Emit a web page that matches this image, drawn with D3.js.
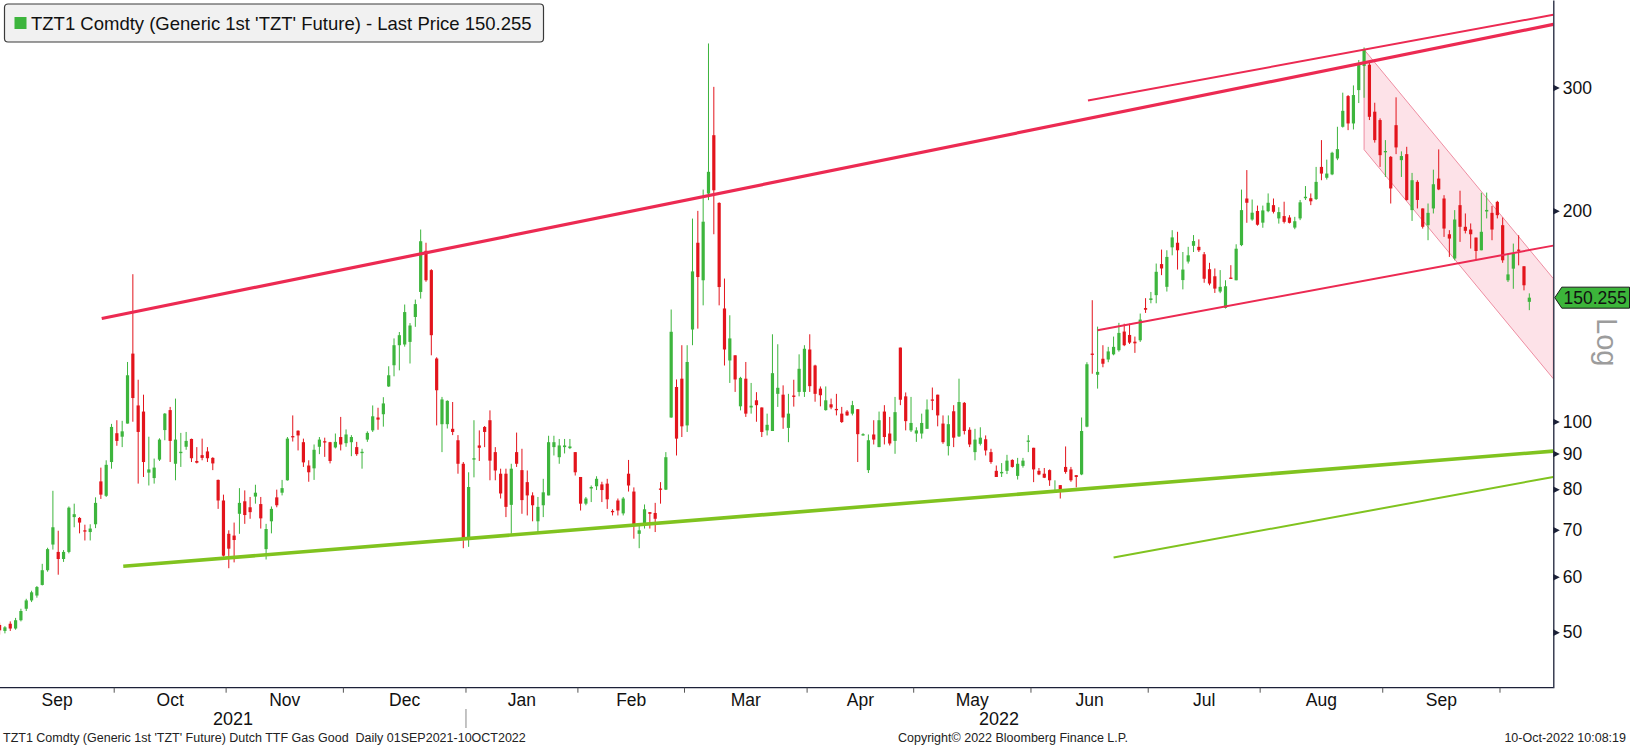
<!DOCTYPE html>
<html>
<head>
<meta charset="utf-8">
<title>TZT1 Comdty</title>
<script src="https://cdn.jsdelivr.net/npm/d3@7/dist/d3.min.js"></script>
<style>
html,body{margin:0;padding:0;background:#ffffff;overflow:hidden;}
svg{display:block;font-family:"Liberation Sans",Arial,sans-serif;}
</style>
</head>
<body>
<svg id="chart" width="1630" height="747"></svg>
<script>
// ---------- DATA (daily sessions) ----------
const opens = [51.2,50.2,51.4,50.6,52.0,54.0,55.5,56.4,58.4,61.3,66.7,65.1,63.6,65.1,73.0,72.8,69.9,69.5,71.3,82.1,78.3,87.5,
96.2,95.1,99.3,125.0,105.4,103.3,84.5,83.0,88.2,97.2,103.8,87.0,90.1,92.0,94.4,87.8,89.5,90.6,88.7,82.5,77.1,
69.1,68.7,73.8,76.9,75.4,78.1,76.2,65.7,72.0,77.9,79.1,82.4,95.3,97.0,93.4,86.5,85.7,92.0,93.7,93.4,91.8,95.0,
93.1,93.4,91.9,90.1,94.2,97.1,101.3,102.4,112.2,120.3,128.5,128.8,129.9,141.0,153.1,175.3,164.5,123.0,99.1,99.1,97.6,94.0,87.0,
68.0,88.2,92.4,98.2,100.4,90.4,84.2,84.2,76.0,90.4,85.2,81.9,78.4,72.0,75.9,78.4,91.9,88.9,91.9,91.6,90.4,
83.3,76.3,80.2,80.8,81.3,81.5,74.5,77.1,73.9,84.2,79.4,69.1,71.1,74.2,74.0,80.2,79.9,101.3,112.0,115.1,
98.7,135.3,180.0,159.1,211.6,256.4,205.2,145.0,122.2,124.3,105.1,115.1,104.7,107.2,104.7,97.1,96.9,109.5,109.2,97.9,108.9,110.2,110.2,
126.7,120.2,111.4,103.8,105.8,104.2,102.6,103.3,102.6,104.1,95.6,85.2,95.8,91.9,103.3,96.1,93.8,127.5,108.6,97.1,
96.1,96.1,97.6,107.5,109.2,99.3,92.2,103.4,95.2,106.3,97.3,90.4,92.9,94.3,90.4,85.0,84.3,85.0,88.1,83.6,86.4,93.5,
91.7,85.0,84.2,85.2,79.4,81.1,86.1,85.4,83.8,84.0,98.3,125.0,116.6,122.9,122.6,124.7,126.4,134.4,132.9,130.0,130.6,145.2,
149.1,151.5,167.8,155.7,177.3,180.0,159.2,169.2,178.2,177.6,173.3,165.0,161.2,153.3,145.3,160.5,159.1,178.6,208.2,194.3,199.8,
192.3,199.7,203.7,195.0,196.5,195.6,189.2,195.0,208.4,208.4,207.8,231.0,222.9,225.4,237.5,263.6,291.6,266.5,297.4,321.9,323.3,277.0,269.5,
242.6,238.8,265.0,236.2,240.9,200.4,219.9,201.5,190.7,201.5,222.3,208.2,185.1,170.9,203.7,189.7,188.0,183.1,175.6,199.5,198.6,205.9,
190.7,159.1,165.3,176.0,166.6,148.2];

const highs = [51.6,51.0,51.8,52.4,54.0,55.8,57.3,58.2,62.6,66.0,79.6,69.8,65.5,75.6,76.3,73.0,71.2,71.3,77.9,85.9,88.0,99.2,
100.4,100.2,121.6,162.3,114.7,109.2,95.1,88.5,94.6,102.8,104.9,107.8,96.3,96.6,94.5,91.9,94.5,91.9,88.9,82.6,78.6,
69.9,71.7,80.3,79.7,78.0,81.2,78.0,71.4,75.6,79.9,82.5,95.0,102.0,97.1,94.5,88.0,92.7,95.0,94.8,93.5,96.1,101.5,
97.4,95.6,93.5,91.4,96.8,105.4,104.6,108.3,119.9,131.4,134.2,146.9,138.2,149.3,188.0,180.0,165.0,123.5,108.4,107.2,106.6,95.6,87.5,
84.6,100.4,97.1,98.5,103.7,91.9,85.6,85.6,87.0,96.4,91.4,85.1,79.2,78.0,82.8,95.4,95.4,94.4,94.4,94.4,90.4,
83.3,78.0,81.0,83.5,82.0,82.8,74.9,77.6,78.0,88.1,80.5,71.1,76.1,74.2,76.5,81.9,90.4,144.5,114.8,128.5,
128.5,194.9,199.9,214.4,346.7,300.6,205.6,160.0,141.8,124.3,115.8,121.6,113.5,110.1,104.7,102.6,133.2,128.9,112.6,109.5,114.7,124.7,128.5,
133.2,120.5,112.2,112.2,107.8,109.5,104.9,103.8,107.0,104.1,96.2,95.8,100.4,103.3,105.5,101.5,108.4,127.5,110.0,108.4,
98.1,102.6,107.5,111.8,109.2,102.0,102.0,105.5,115.1,106.6,98.1,97.6,98.1,95.5,91.4,86.5,87.2,89.6,88.3,88.7,88.7,95.6,
91.7,85.8,85.8,85.4,82.4,81.1,92.1,86.1,83.8,101.3,121.5,149.0,136.6,128.5,127.8,132.2,138.3,137.9,137.9,132.2,142.6,150.0,
153.1,168.1,176.0,175.6,187.6,186.6,174.6,177.6,184.6,182.0,174.6,168.5,165.4,164.5,159.1,167.2,179.1,214.4,228.6,207.5,203.4,
203.4,211.7,208.2,202.3,206.0,197.1,196.0,207.2,216.9,211.7,231.0,252.3,236.6,242.8,263.6,294.9,292.6,302.0,328.3,342.2,325.8,285.3,271.0,
252.3,239.4,290.4,243.1,246.8,226.5,221.1,201.5,204.8,228.9,244.7,210.5,187.6,200.4,213.6,198.2,191.8,183.1,212.2,212.3,203.2,206.6,
195.6,173.7,179.5,184.5,166.6,152.4];

const lows = [49.6,49.8,50.2,50.4,51.8,53.6,55.2,56.0,58.3,61.0,65.6,60.4,63.0,64.8,70.6,69.2,67.6,67.6,70.4,77.5,78.0,85.6,
92.3,91.9,99.3,99.9,81.5,83.3,81.0,81.5,87.8,94.0,87.5,82.4,86.1,91.1,87.5,87.1,88.0,87.5,85.2,75.0,64.1,
61.7,62.9,69.1,71.4,72.6,76.3,70.3,63.5,69.2,75.4,78.4,82.3,93.6,90.9,86.1,82.0,82.5,89.8,89.0,87.1,91.5,90.9,
92.0,89.2,89.3,85.6,93.5,96.6,97.3,98.3,112.0,116.0,118.3,127.9,121.0,136.5,149.8,158.3,124.3,98.7,90.4,97.7,95.6,84.2,65.9,
66.2,83.2,87.8,91.9,82.4,82.4,77.6,73.0,69.1,86.1,73.8,73.4,72.0,69.5,73.0,78.4,89.4,87.0,90.0,91.3,83.7,
74.6,75.9,76.7,79.8,76.7,75.0,73.4,73.4,73.4,79.4,68.0,65.9,70.3,70.3,69.5,76.3,79.8,101.2,89.4,95.0,
96.6,128.5,135.7,146.5,207.1,185.1,146.5,120.2,113.5,110.2,103.7,101.5,102.6,99.9,95.0,95.5,96.9,104.9,97.6,93.4,105.0,108.6,108.4,
110.2,106.7,105.1,103.6,104.1,102.0,99.5,101.9,102.0,87.5,95.4,84.4,92.7,91.9,92.7,92.4,89.9,105.5,97.1,96.6,
93.5,94.5,97.6,103.8,98.4,92.9,89.4,91.9,95.0,95.8,91.9,88.0,92.4,89.4,87.0,83.3,83.3,84.1,85.9,82.6,85.9,90.4,
81.9,83.8,83.0,80.9,79.3,77.6,84.2,82.0,80.5,83.8,98.1,117.0,111.4,119.5,121.5,124.3,125.8,128.1,129.0,125.3,129.9,142.9,
147.5,147.5,161.8,153.3,172.7,164.8,154.4,168.1,174.6,174.6,157.8,156.5,152.6,152.5,145.0,160.0,159.1,178.0,192.2,193.5,190.4,
189.1,199.0,198.2,191.7,191.8,191.8,188.2,193.9,207.2,203.7,207.2,221.1,221.6,224.8,236.2,262.9,260.7,261.3,285.0,290.0,269.5,250.2,231.0,
223.5,204.8,240.9,223.5,206.7,193.4,201.5,188.6,181.5,198.2,214.0,183.5,171.8,169.9,180.5,185.6,176.6,169.9,175.6,195.0,181.5,195.0,
168.5,158.2,154.7,167.1,153.9,144.2];

const closes = [50.3,50.8,50.6,52.0,53.6,55.5,57.0,58.0,61.3,65.7,70.6,63.6,65.1,75.3,73.7,71.7,69.6,70.3,76.5,78.6,86.7,98.2,
93.8,96.8,116.4,108.0,96.6,87.5,85.4,85.9,94.2,102.6,93.8,94.2,90.5,93.8,88.6,87.3,88.7,88.6,87.1,77.1,64.3,
65.8,67.7,76.5,73.5,74.2,79.1,72.7,70.2,75.0,75.9,80.3,94.5,94.9,95.5,87.4,84.6,91.1,94.2,93.3,87.8,93.5,92.7,
95.8,95.0,89.8,90.5,96.3,101.7,100.6,106.1,116.4,128.5,132.8,143.3,137.1,147.1,180.9,159.1,132.8,110.8,107.5,107.0,96.6,87.0,68.0,
80.6,88.6,91.7,96.6,87.9,85.1,78.9,75.5,85.6,87.0,77.2,78.4,75.9,75.5,79.2,93.4,93.4,92.4,92.4,92.1,84.6,
76.3,77.6,80.6,82.8,79.8,77.4,74.3,74.6,77.6,81.0,71.1,69.9,74.9,73.8,72.6,79.9,88.9,134.3,94.5,98.4,
121.6,163.8,160.8,192.9,227.3,213.9,155.6,126.7,131.4,114.8,115.4,102.6,105.3,105.5,96.6,98.9,117.2,111.7,101.3,102.6,108.4,118.9,127.0,
112.3,109.5,109.0,107.2,104.7,103.9,99.8,102.0,105.5,95.9,95.9,94.0,94.2,100.4,95.0,93.0,103.1,107.4,100.1,99.5,
97.1,99.5,104.0,107.1,102.0,93.4,99.1,94.8,106.6,96.9,92.7,94.2,94.8,90.9,87.5,83.3,84.7,87.9,86.1,87.0,87.9,93.9,
85.4,84.0,83.1,82.4,79.8,79.7,84.7,82.4,83.3,96.9,120.7,124.7,117.7,120.9,125.9,127.8,133.8,128.5,129.6,129.3,139.8,144.4,
149.9,163.6,165.4,171.8,183.2,175.6,164.8,172.7,181.0,175.6,159.9,157.4,154.8,155.7,156.0,160.0,176.5,200.4,205.3,198.7,191.0,
200.2,205.3,199.3,199.1,192.8,192.2,193.2,205.6,209.4,206.3,219.9,226.0,226.0,242.0,244.9,277.8,266.5,292.6,322.9,339.3,272.4,252.3,240.1,
243.4,215.2,246.3,239.4,207.2,221.1,207.2,189.7,198.6,218.2,214.5,188.6,182.5,194.3,189.7,187.2,185.1,175.2,186.6,200.5,188.0,197.1,
169.9,162.2,173.7,175.3,156.5,150.255];

const monthLabels   = ["Sep","Oct","Nov","Dec","Jan","Feb","Mar","Apr","May","Jun","Jul","Aug","Sep","Oct"];
const monthSessions = [22,21,22,23,21,20,23,20,22,22,21,23,22,6];
const yearLabels      = ["2021","2022"];
const yearMonthCounts = [4,10];
const yTickValues = [50,60,70,80,90,100,200,300];
const lastPrice = 150.255;

const legendText  = "TZT1 Comdty (Generic 1st 'TZT' Future) - Last Price 150.255";
const footerLeft  = "TZT1 Comdty (Generic 1st 'TZT' Future) Dutch TTF Gas Good  Daily 01SEP2021-10OCT2022";
const footerMid   = "Copyright\u00A9 2022 Bloomberg Finance L.P.";
const footerRight = "10-Oct-2022 10:08:19";

// drawn trend lines, as [session index, price] end points
const resistanceMain  = [[19.16,140.3],[291.5,369.2]];
const resistanceUpper = [[204.2,287.3],[291.5,381.0]];
const supportJune     = [[206.0,135.0],[291.5,178.3]];
const supportMain     = [[23.2,62.1],[291.5,90.7]];
const supportLower    = [[209.0,63.9],[291.5,83.3]];
const downChannel     = [[256,339.8],[291.5,160.0],[291.5,115.1],[256,244.5]];

// ---------- CHART ----------
const svg = d3.select("#chart");
const P = {left:0, right:1553.3, top:0, bottom:687.7};
const x = d3.scaleLinear().domain([-0.5, 291.5]).range([-3.07, P.right]);
const y = d3.scaleLog().domain([41.65, 400]).range([P.bottom, P.top]);

const UP = "#3db53d", DN = "#e3141c", RED = "#ec2a52", LIME = "#80c31f", AX = "#1c2138";

svg.append("rect").attr("width",1630).attr("height",747).attr("fill","#ffffff");

svg.append("defs").append("clipPath").attr("id","plotClip")
  .append("rect").attr("x",P.left).attr("y",P.top)
  .attr("width",P.right-P.left).attr("height",P.bottom-P.top);
const plotG = svg.append("g").attr("clip-path","url(#plotClip)");

const lineGen = d3.line().x(d=>x(d[0])).y(d=>y(d[1]));

// falling channel
plotG.append("path").attr("d", lineGen(downChannel)+"Z")
  .attr("fill","#fde2e8").attr("stroke","#ee8ea2").attr("stroke-width",1);

// candles
const data = closes.map((c,i)=>({i, o:opens[i], h:highs[i], l:lows[i], c}));
const cg = plotG.append("g");
cg.selectAll("line").data(data).join("line")
  .attr("x1",d=>x(d.i)).attr("x2",d=>x(d.i))
  .attr("y1",d=>y(d.h)).attr("y2",d=>y(d.l))
  .attr("stroke",d=>d.c>=d.o?UP:DN).attr("stroke-width",1);
cg.selectAll("rect").data(data).join("rect")
  .attr("x",d=>x(d.i)-1.6).attr("width",3.2)
  .attr("y",d=>y(Math.max(d.o,d.c)))
  .attr("height",d=>Math.max(1.3, y(Math.min(d.o,d.c))-y(Math.max(d.o,d.c))))
  .attr("fill",d=>d.c>=d.o?UP:DN);

// trend lines
[[resistanceMain,RED,3.2],[resistanceUpper,RED,2],[supportJune,RED,2],
 [supportMain,LIME,3.6],[supportLower,LIME,2]].forEach(([pts,col,w])=>{
  plotG.append("path").attr("d",lineGen(pts)).attr("fill","none")
    .attr("stroke",col).attr("stroke-width",w);
});

// y axis (right)
const yAxis = d3.axisRight(y).tickValues(yTickValues).tickFormat(d3.format("d"))
  .tickSize(0).tickSizeOuter(0).tickPadding(9.5);
const yG = svg.append("g").attr("transform",`translate(${P.right},0)`).call(yAxis)
  .attr("font-family",null).attr("font-size",17.5);
yG.select(".domain").attr("stroke",AX).attr("stroke-width",1.3);
yG.selectAll(".tick text").attr("fill","#111");
yG.selectAll(".tick").append("path").attr("d","M0,-3.3L6.5,0L0,3.3Z").attr("fill",AX);

// x axis
svg.append("line").attr("x1",P.left).attr("x2",P.right)
  .attr("y1",P.bottom).attr("y2",P.bottom).attr("stroke",AX).attr("stroke-width",1.3);
const starts = []; let acc = 0;
monthSessions.forEach(k=>{ starts.push(acc); acc += k; });
const bounds = starts.map(s=>x(s-0.5)); bounds.push(x(acc-0.5));
bounds.slice(1, monthSessions.length).forEach(b=>{
  svg.append("line").attr("x1",b).attr("x2",b).attr("y1",P.bottom).attr("y2",P.bottom+5)
    .attr("stroke","#555").attr("stroke-width",1);
});
monthLabels.forEach((m,k)=>{
  const a = Math.max(P.left,bounds[k]), b = Math.min(P.right,bounds[k+1]);
  if (b - a < 60) return;
  svg.append("text").attr("x",(a+b)/2).attr("y",705.5).attr("text-anchor","middle")
    .attr("font-size",17.5).attr("fill","#111").text(m);
});
let mAcc = 0;
yearLabels.forEach((yl,k)=>{
  const a = Math.max(P.left,bounds[mAcc]);
  const b = Math.min(P.right,bounds[mAcc+yearMonthCounts[k]]);
  if (k>0) svg.append("line").attr("x1",bounds[mAcc]).attr("x2",bounds[mAcc])
      .attr("y1",709).attr("y2",728).attr("stroke","#888").attr("stroke-width",1);
  svg.append("text").attr("x",(a+b)/2).attr("y",725).attr("text-anchor","middle")
    .attr("font-size",18).attr("fill","#111").text(yl);
  mAcc += yearMonthCounts[k];
});

// legend
svg.append("rect").attr("x",4.5).attr("y",4).attr("width",539).attr("height",38).attr("rx",3.5)
  .attr("fill","#f1f1f1").attr("stroke","#3a3a3a").attr("stroke-width",1.2);
svg.append("rect").attr("x",14.5).attr("y",17).attr("width",12).attr("height",12).attr("fill",UP);
svg.append("text").attr("x",31).attr("y",30).attr("font-size",18.5).attr("fill","#111").text(legendText);

// last price tag
const py = y(lastPrice);
svg.append("path")
  .attr("d",`M${P.right+1.5},${py} L${P.right+8.5},${py-10.5} L1629.5,${py-10.5} L1629.5,${py+10.5} L${P.right+8.5},${py+10.5} Z`)
  .attr("fill","#3cb53a").attr("stroke","#1a1a1a").attr("stroke-width",1);
svg.append("text").attr("x",1563.5).attr("y",py+6.3).attr("font-size",17.5).attr("fill","#111")
  .text(d3.format(".3f")(lastPrice));

// scale type label
svg.append("text").attr("transform","translate(1597,318) rotate(90)")
  .attr("font-size",29).attr("fill","#9c9c9c").text("Log");

// footer
svg.append("text").attr("x",3).attr("y",742).attr("font-size",12.5).attr("fill","#222")
  .style("white-space","pre").text(footerLeft);
svg.append("text").attr("x",898).attr("y",742).attr("font-size",12.5).attr("fill","#222").text(footerMid);
svg.append("text").attr("x",1626).attr("y",742).attr("text-anchor","end").attr("font-size",12.5)
  .attr("fill","#222").text(footerRight);
</script>
</body>
</html>
